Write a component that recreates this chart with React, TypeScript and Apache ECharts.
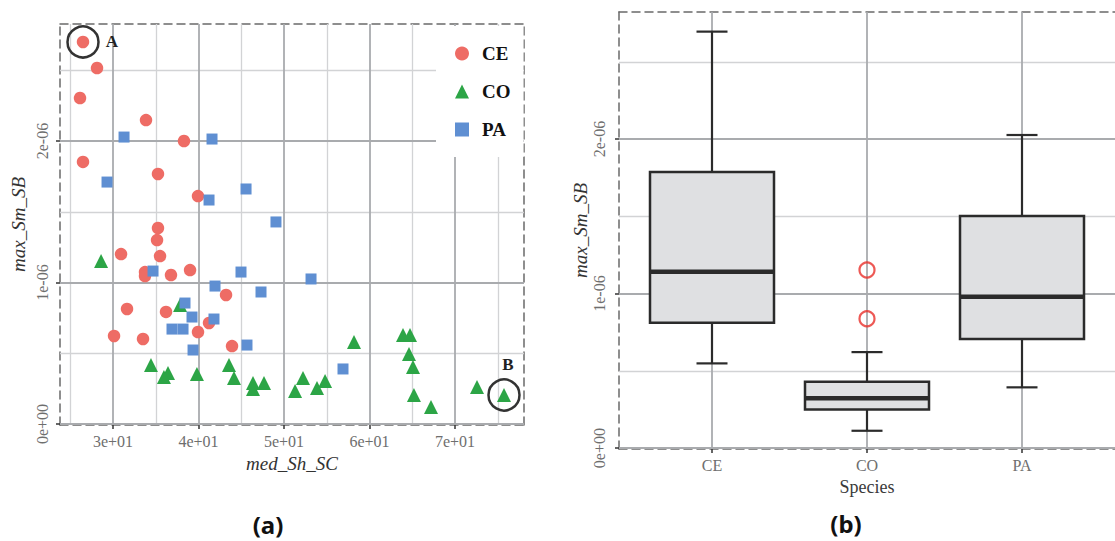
import React, { useEffect, useRef } from "react";
import * as echarts from "echarts";

// ---------- data (a) scatter ----------
const ceX = [26.49, 28.13, 26.14, 33.86, 38.3, 26.49, 35.26, 39.94, 35.26, 35.15, 30.94, 35.5, 33.74, 33.74, 36.78, 39.01, 43.22, 31.64, 36.2, 41.23, 39.94, 30.12, 33.51, 43.92];
const ceY = [2.7e-6, 2.516e-6, 2.304e-6, 2.148e-6, 2.0e-6, 1.852e-6, 1.767e-6, 1.611e-6, 1.385e-6, 1.3e-6, 1.201e-6, 1.187e-6, 1.074e-6, 1.046e-6, 1.053e-6, 1.088e-6, 0.912e-6, 0.813e-6, 0.792e-6, 0.714e-6, 0.65e-6, 0.622e-6, 0.601e-6, 0.551e-6];
const coX = [28.6, 37.84, 34.44, 36.43, 35.96, 39.82, 43.57, 44.15, 46.37, 46.37, 47.66, 51.29, 52.22, 53.86, 54.8, 58.19, 63.92, 64.74, 64.62, 65.09, 65.2, 67.19, 72.57, 75.73];
const coY = [1.152e-6, 0.841e-6, 0.417e-6, 0.36e-6, 0.332e-6, 0.353e-6, 0.417e-6, 0.325e-6, 0.29e-6, 0.247e-6, 0.29e-6, 0.233e-6, 0.325e-6, 0.254e-6, 0.304e-6, 0.58e-6, 0.629e-6, 0.629e-6, 0.495e-6, 0.403e-6, 0.205e-6, 0.12e-6, 0.261e-6, 0.205e-6];
const paX = [31.29, 41.58, 29.3, 41.23, 45.56, 49.06, 34.68, 41.93, 44.97, 47.31, 38.42, 39.24, 41.81, 36.9, 38.19, 39.36, 45.67, 53.16, 56.9];
const paY = [2.028e-6, 2.014e-6, 1.71e-6, 1.583e-6, 1.661e-6, 1.428e-6, 1.081e-6, 0.975e-6, 1.074e-6, 0.933e-6, 0.855e-6, 0.756e-6, 0.742e-6, 0.671e-6, 0.671e-6, 0.523e-6, 0.558e-6, 1.025e-6, 0.389e-6];
const seriesNames = ["CE", "CO", "PA"];
const pointA = [26.49, 2.7e-6];
const pointB = [75.73, 0.205e-6];

const xTicksA = [30, 40, 50, 60, 70];
const xMinorA = [25, 35, 45, 55, 65, 75];
const yTicks = [0, 1e-6, 2e-6];
const yMinor = [0.5e-6, 1.5e-6, 2.5e-6];

// ---------- data (b) boxplot ----------
const boxCategories = ["CE", "CO", "PA"];
// [min, Q1, median, Q3, max]
const boxStats = [
  [0.548e-6, 0.811e-6, 1.141e-6, 1.786e-6, 2.695e-6],
  [0.112e-6, 0.25e-6, 0.322e-6, 0.429e-6, 0.621e-6],
  [0.393e-6, 0.706e-6, 0.979e-6, 1.502e-6, 2.026e-6],
];
const outlierCat = ["CO", "CO"];
const outlierVal = [1.152e-6, 0.837e-6];

const SERIF = "'Liberation Serif', 'DejaVu Serif', serif";
const MAJOR = { color: "#a9abae", width: 1.8, type: "solid" };
const MINOR = { color: "#d2d3d5", width: 1.3, type: "solid" };
const DASH = { color: "#6a6a6a", width: 1.5, type: [8, 5] as number[] };

function fmtSci(v: number): string {
  if (v === 0) return "0e+00";
  const s = v.toExponential(0);
  const [m, e] = s.split("e");
  const sign = e[0] === "-" ? "-" : "+";
  const d = e.replace(/[+-]/, "");
  return m + "e" + sign + d.padStart(2, "0");
}

function zip(xs: number[], ys: number[]) {
  return xs.map((x, i) => [x, ys[i]]);
}

function gridMarkLine(xs: number[], ys: number[], style: any) {
  return {
    silent: true,
    symbol: "none",
    z: 1,
    precision: 12,
    label: { show: false },
    lineStyle: { ...style },
    emphasis: { disabled: true },
    data: [...xs.map((v) => ({ xAxis: v })), ...ys.map((v) => ({ yAxis: v }))],
  };
}

export default function App() {
  const ref = useRef<HTMLDivElement>(null);
  useEffect(() => {
    if (!ref.current) return;
    const chart = echarts.init(ref.current, undefined, { renderer: "svg" });

    const tickLabel = { fontFamily: SERIF, fontSize: 16, color: "#6e6e6e" };
    const axisTick = { show: true, length: 4, lineStyle: { color: "#333", width: 1.5 } };
    const nameStyle = { fontFamily: SERIF, fontSize: 19, fontStyle: "italic", color: "#333" };

    const option: any = {
      animation: false,
      backgroundColor: "#ffffff",
      grid: [
        { left: 60, top: 24, width: 464, height: 401 },
        { left: 619, top: 12, right: -8, height: 437 },
      ],
      xAxis: [
        {
          gridIndex: 0, type: "value", min: 23.8, max: 78.07, position: "bottom",
          axisLine: { onZero: false, lineStyle: DASH },
          axisTick: { ...axisTick, customValues: xTicksA },
          axisLabel: { ...tickLabel, margin: 8, customValues: xTicksA, formatter: (v: number) => fmtSci(v) },
          splitLine: { show: false },
          name: "med_Sh_SC", nameLocation: "middle", nameGap: 28,
          nameTextStyle: nameStyle,
        },
        {
          gridIndex: 0, type: "value", min: 23.8, max: 78.07, position: "top",
          axisLine: { onZero: false, lineStyle: DASH },
          axisTick: { show: false }, axisLabel: { show: false }, splitLine: { show: false },
        },
        {
          gridIndex: 1, type: "value", min: 0.4, max: 3.6, position: "bottom",
          axisLine: { onZero: false, lineStyle: DASH },
          axisTick: { ...axisTick, customValues: [1, 2, 3] },
          axisLabel: { ...tickLabel, margin: 8, customValues: [1, 2, 3], formatter: (v: number) => boxCategories[Math.round(v) - 1] },
          splitLine: { show: false },
          name: "Species", nameLocation: "middle", nameGap: 29,
          nameTextStyle: { fontFamily: SERIF, fontSize: 18, color: "#3a3a3a" },
        },
        {
          gridIndex: 1, type: "value", min: 0.4, max: 3.6, position: "top",
          axisLine: { onZero: false, lineStyle: DASH },
          axisTick: { show: false }, axisLabel: { show: false }, splitLine: { show: false },
        },
      ],
      yAxis: [
        {
          gridIndex: 0, type: "value", min: -0.007e-6, max: 2.827e-6, position: "left",
          axisLine: { show: true, onZero: false, lineStyle: DASH },
          axisTick: { ...axisTick, customValues: yTicks },
          axisLabel: { ...tickLabel, rotate: 90, margin: 10, customValues: yTicks, formatter: (v: number) => fmtSci(v) },
          splitLine: { show: false },
          name: "max_Sm_SB", nameLocation: "middle", nameGap: 32, nameRotate: 90,
          nameTextStyle: nameStyle,
        },
        {
          gridIndex: 0, type: "value", min: -0.007e-6, max: 2.827e-6, position: "right",
          axisLine: { show: true, onZero: false, lineStyle: DASH },
          axisTick: { show: false }, axisLabel: { show: false }, splitLine: { show: false },
        },
        {
          gridIndex: 1, type: "value", min: -0.006e-6, max: 2.822e-6, position: "left",
          axisLine: { show: true, onZero: false, lineStyle: DASH },
          axisTick: { ...axisTick, customValues: yTicks },
          axisLabel: { ...tickLabel, rotate: 90, margin: 12, customValues: yTicks, formatter: (v: number) => fmtSci(v) },
          splitLine: { show: false },
          name: "max_Sm_SB", nameLocation: "middle", nameGap: 28, nameRotate: 90,
          nameTextStyle: nameStyle,
        },
      ],
      legend: {
        data: seriesNames,
        orient: "vertical",
        left: 436, top: 26,
        padding: [18, 13, 18, 19],
        backgroundColor: "#ffffff",
        itemWidth: 14, itemHeight: 14, itemGap: 19,
        textStyle: { fontFamily: SERIF, fontSize: 19, fontWeight: "bold", color: "#111", padding: [0, 0, 0, 8] },
      },
      series: [
        {
          name: "CE", type: "scatter", xAxisIndex: 0, yAxisIndex: 0,
          symbol: "circle", symbolSize: 12.5,
          itemStyle: { color: "#ee6c65", opacity: 1 },
          data: zip(ceX, ceY), z: 3,
          markLine: gridMarkLine(xMinorA, yMinor, MINOR),
          markPoint: {
            silent: true, z: 4,
            data: [{
              coord: pointA, symbol: "circle", symbolSize: 31,
              itemStyle: { color: "rgba(0,0,0,0)", borderColor: "#333", borderWidth: 2.5 },
              label: { show: true, formatter: "A", position: "right", distance: 6, fontFamily: SERIF, fontSize: 17, fontWeight: "bold", color: "#222" },
            }],
          },
        },
        {
          name: "CO", type: "scatter", xAxisIndex: 0, yAxisIndex: 0,
          symbol: "triangle", symbolSize: 14,
          itemStyle: { color: "#2ca546", opacity: 1 },
          data: zip(coX, coY), z: 3,
          markLine: gridMarkLine(xTicksA, yTicks, MAJOR),
          markPoint: {
            silent: true, z: 4,
            data: [{
              coord: pointB, symbol: "circle", symbolSize: 31,
              itemStyle: { color: "rgba(0,0,0,0)", borderColor: "#333", borderWidth: 2.5 },
              label: { show: true, formatter: "B", position: "top", distance: 5, offset: [4, 0], fontFamily: SERIF, fontSize: 17, fontWeight: "bold", color: "#222" },
            }],
          },
        },
        {
          name: "PA", type: "scatter", xAxisIndex: 0, yAxisIndex: 0,
          symbol: "rect", symbolSize: 11,
          itemStyle: { color: "#5f8fd2", opacity: 1 },
          data: zip(paX, paY), z: 3,
        },
        {
          name: "box", type: "custom", xAxisIndex: 2, yAxisIndex: 2, z: 3,
          data: boxStats.map((s, i) => [i + 1, ...s]),
          encode: { x: 0, y: [1, 2, 3, 4, 5] },
          markLine: gridMarkLine([], yMinor, MINOR),
          renderItem: (params: any, api: any) => {
            const x = api.value(0);
            const band = api.size([1, 0])[0];
            const half = band * 0.4;
            const cap = band * 0.1;
            const cx = api.coord([x, api.value(1)])[0];
            const yLo = api.coord([x, api.value(1)])[1];
            const yQ1 = api.coord([x, api.value(2)])[1];
            const yMed = api.coord([x, api.value(3)])[1];
            const yQ3 = api.coord([x, api.value(4)])[1];
            const yHi = api.coord([x, api.value(5)])[1];
            const stroke = "#2b2b2b";
            const ln = (x1: number, y1: number, x2: number, y2: number, w: number) => ({
              type: "line", shape: { x1, y1, x2, y2 }, style: { stroke, lineWidth: w },
            });
            return {
              type: "group",
              children: [
                ln(cx, yQ3, cx, yHi, 2.2),
                ln(cx, yQ1, cx, yLo, 2.2),
                ln(cx - cap, yHi, cx + cap, yHi, 2.2),
                ln(cx - cap, yLo, cx + cap, yLo, 2.2),
                {
                  type: "rect",
                  shape: { x: cx - half, y: yQ3, width: 2 * half, height: yQ1 - yQ3 },
                  style: { fill: "#dfe0e2", stroke, lineWidth: 2.5 },
                },
                ln(cx - half, yMed, cx + half, yMed, 4.5),
              ],
            };
          },
        },
        {
          name: "outliers", type: "scatter", xAxisIndex: 2, yAxisIndex: 2, z: 4,
          symbol: "circle", symbolSize: 15,
          itemStyle: { color: "rgba(0,0,0,0)", borderColor: "#e8302a", borderWidth: 2.2 },
          data: outlierCat.map((c, i) => [boxCategories.indexOf(c) + 1, outlierVal[i]]),
          markLine: gridMarkLine([1, 2, 3], yTicks, MAJOR),
        },
      ],
      graphic: [
        { type: "text", x: 268, y: 524, style: { text: "(a)", fontFamily: "'Noto Sans', sans-serif", fontSize: 24, fontWeight: "bold", fill: "#111", align: "center", verticalAlign: "middle" } },
        { type: "text", x: 846, y: 523, style: { text: "(b)", fontFamily: "'Noto Sans', sans-serif", fontSize: 24, fontWeight: "bold", fill: "#111", align: "center", verticalAlign: "middle" } },
      ],
    };
    chart.setOption(option);
    return () => chart.dispose();
  }, []);
  return <div ref={ref} style={{ position: "absolute", left: 0, top: 0, width: 1115, height: 541 }} />;
}
